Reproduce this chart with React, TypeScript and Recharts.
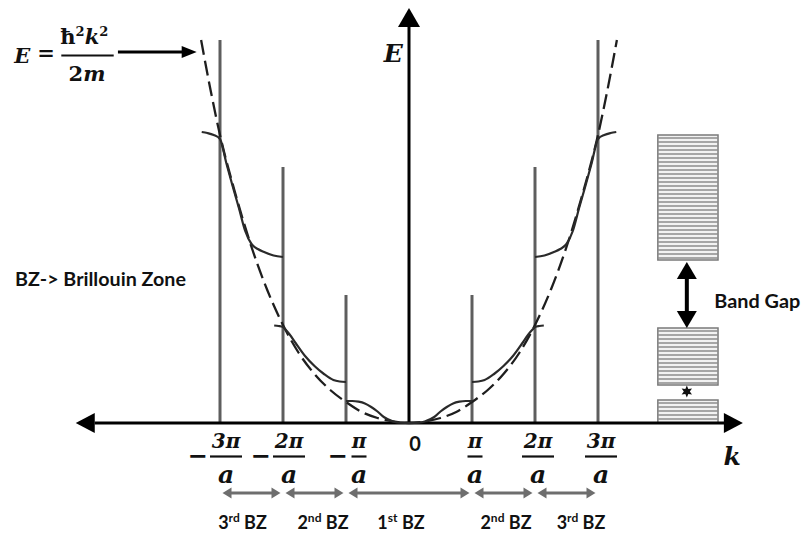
import React from 'react';
import { ComposedChart, Line, XAxis, YAxis, ReferenceLine, ReferenceDot, ReferenceArea } from 'recharts';

// ---------------- data (k in units of π/a, E in arbitrary energy units) ----------------
const freeK = [-3.3, -3.15, -3, -2.75, -2.5, -2.25, -2, -1.75, -1.5, -1.25, -1, -0.75, -0.5, -0.25, 0, 0.25, 0.5, 0.75, 1, 1.25, 1.5, 1.75, 2, 2.25, 2.5, 2.75, 3, 3.15, 3.3];
const freeE = [383, 333, 288, 228, 176, 133, 98, 70, 49, 33, 21, 11, 5, 1.5, 0, 1.5, 5, 11, 21, 33, 49, 70, 98, 133, 176, 228, 288, 333, 383];

const band1K = [-1, -0.9, -0.8, -0.7, -0.6, -0.5, -0.4, -0.25, -0.15, 0, 0.15, 0.25, 0.4, 0.5, 0.6, 0.7, 0.8, 0.9, 1];
const band1E = [22, 22, 21.3, 19.5, 16, 11.5, 6, 1.5, 0.4, 0, 0.4, 1.5, 6, 11.5, 16, 19.5, 21.3, 22, 22];

const band2LeftK = [-2.14, -2.07, -2.0, -1.97, -1.9, -1.8, -1.65, -1.5, -1.35, -1.2, -1.1, -1.0];
const band2LeftE = [97.5, 97, 96, 94, 89, 80, 67, 57, 49, 43, 41.5, 41];
const band2RightK = [1.0, 1.1, 1.2, 1.35, 1.5, 1.65, 1.8, 1.9, 1.97, 2.0, 2.07, 2.14];
const band2RightE = [41, 41.5, 43, 49, 57, 67, 80, 89, 94, 96, 97, 97.5];

const band3LeftK = [-3.29, -3.2, -3.1, -3.0, -2.9, -2.8, -2.7, -2.6, -2.5, -2.4, -2.3, -2.15, -2.0];
const band3LeftE = [291, 290, 288, 284, 260, 237, 215, 192, 179, 174, 171, 167.5, 166];
const band3RightK = [2.0, 2.15, 2.3, 2.4, 2.5, 2.6, 2.7, 2.8, 2.9, 3.0, 3.1, 3.2, 3.29];
const band3RightE = [166, 167.5, 171, 174, 179, 192, 215, 237, 260, 284, 288, 290, 291];

const zoneEdges = [-3, -2, -1, 1, 2, 3];
const zoneLineTops = [383, 256, 128, 128, 256, 383];
const tickNumerators = ['3π', '2π', 'π', 'π', '2π', '3π'];
const tickNegative = [true, true, true, false, false, false];
const tickDenominator = 'a';
const zones = [[-3, -2], [-2, -1], [-1, 1], [1, 2], [2, 3]];
const zoneOrdinals = ['3', '2', '1', '2', '3'];
const zoneSuffixes = ['rd', 'nd', 'st', 'nd', 'rd'];
const zoneName = 'BZ';

const allowedBands = [[0, 23], [38, 95], [163, 288]];
const bandGap = [95, 161];
const gapMarkE = 31.5;

// ---------------- layout ----------------
const W = 803;
const H = 533;
const ORIGIN_X = 409;
const UNIT_X = 63;
const AXIS_Y = 423;
const X_DOMAIN = [-ORIGIN_X / UNIT_X, (W - ORIGIN_X) / UNIT_X];
const Y_DOMAIN = [-(H - AXIS_Y), AXIS_Y];

const SERIF = '"DejaVu Serif", serif';
const SANS = 'Lato, "Open Sans", sans-serif';

const rows = (ks: number[], es: number[]) => ks.map((k, i) => ({ k, E: es[i] }));

const tri = (cx: number, cy: number, dir: string, len: number, half: number, fill: string) => {
  let pts = '';
  if (dir === 'right') pts = `${cx},${cy} ${cx - len},${cy - half} ${cx - len},${cy + half}`;
  if (dir === 'left') pts = `${cx},${cy} ${cx + len},${cy - half} ${cx + len},${cy + half}`;
  if (dir === 'up') pts = `${cx},${cy} ${cx - half},${cy + len} ${cx + half},${cy + len}`;
  if (dir === 'down') pts = `${cx},${cy} ${cx - half},${cy - len} ${cx + half},${cy - len}`;
  return <polygon points={pts} fill={fill} />;
};

const doubleArrow = (color: string, width: number, len: number, half: number) => (p: any) => {
  const { x1, y1, x2, y2 } = p;
  const dx = x2 - x1;
  const dy = y2 - y1;
  const L = Math.hypot(dx, dy) || 1;
  const ux = dx / L;
  const uy = dy / L;
  const nx = -uy;
  const ny = ux;
  const a = `${x1},${y1} ${x1 + ux * len + nx * half},${y1 + uy * len + ny * half} ${x1 + ux * len - nx * half},${y1 + uy * len - ny * half}`;
  const b = `${x2},${y2} ${x2 - ux * len + nx * half},${y2 - uy * len + ny * half} ${x2 - ux * len - nx * half},${y2 - uy * len - ny * half}`;
  return (
    <g>
      <line x1={x1 + ux * len * 0.7} y1={y1 + uy * len * 0.7} x2={x2 - ux * len * 0.7} y2={y2 - uy * len * 0.7} stroke={color} strokeWidth={width} />
      <polygon points={a} fill={color} />
      <polygon points={b} fill={color} />
    </g>
  );
};

const hatchBox = (p: any) => {
  const { x, y, width, height } = p;
  const lines = [];
  for (let yy = y + 3; yy < y + height - 1; yy += 4) {
    lines.push(<line key={yy} x1={x} x2={x + width} y1={yy} y2={yy} stroke="#8c8c8c" strokeWidth={1.3} />);
  }
  return (
    <g>
      <rect x={x} y={y} width={width} height={height} fill="#f2f2f2" stroke="#7a7a7a" strokeWidth={1.5} />
      {lines}
    </g>
  );
};

const mark = (key: string, x: number, y: number, render: (cx: number, cy: number) => React.ReactElement) => (
  <ReferenceDot key={key} x={x} y={y} r={0} ifOverflow="visible" isFront shape={(p: any) => render(p.cx, p.cy)} />
);

const star = (cx: number, cy: number, r: number) => {
  const pts: string[] = [];
  for (let i = 0; i < 12; i++) {
    const ang = (Math.PI / 6) * i - Math.PI / 2;
    const rr = i % 2 === 0 ? r : r * 0.5;
    pts.push(`${cx + rr * Math.cos(ang)},${cy + rr * Math.sin(ang)}`);
  }
  return <polygon points={pts.join(' ')} fill="#111" />;
};

// horizontal offset of each fraction label from its zone line (px)
const tickDx = [6, 6, 13, 3, 3, 3];
const minusDx = [-28.5, -28.5, -21.5, 0, 0, 0];
const zoneLabelDx = [-9, 8.5, -8, 2.5, 14.5];

export default function App() {
  const curve = { type: 'monotone' as const, dataKey: 'E', dot: false, activeDot: false, isAnimationActive: false };
  return (
    <div style={{ position: 'absolute', left: 0, top: 0, width: W, height: H, background: '#fff' }}>
      <ComposedChart width={W} height={H} margin={{ top: 0, right: 0, bottom: 0, left: 0 }}>
        <XAxis dataKey="k" type="number" domain={X_DOMAIN} allowDataOverflow hide tickCount={2} />
        <YAxis type="number" domain={Y_DOMAIN} allowDataOverflow hide tickCount={2} />

        {/* zone boundary lines */}
        {zoneEdges.map((k, i) => (
          <ReferenceLine key={'z' + i} segment={[{ x: k, y: 0 }, { x: k, y: zoneLineTops[i] }]} stroke="#5e5e5e" strokeWidth={3} ifOverflow="visible" />
        ))}

        {/* axes */}
        <ReferenceLine segment={[{ x: -4.99, y: 0 }, { x: 5.02, y: 0 }]} stroke="#000" strokeWidth={3} ifOverflow="visible" />
        <ReferenceLine segment={[{ x: 0, y: 0 }, { x: 0, y: 397 }]} stroke="#000" strokeWidth={3} ifOverflow="visible" />
        {mark('axL', -5.29, 0, (cx, cy) => tri(cx, cy, 'left', 19, 10, '#000'))}
        {mark('axR', 5.3, 0, (cx, cy) => tri(cx, cy, 'right', 19, 10, '#000'))}
        {mark('axU', 0, 415, (cx, cy) => tri(cx, cy, 'up', 19, 11, '#000'))}

        {/* free-electron parabola */}
        <Line data={rows(freeK, freeE)} {...curve} stroke="#1e1e1e" strokeWidth={2.3} strokeDasharray="15 6" />

        {/* bands */}
        <Line data={rows(band1K, band1E)} {...curve} stroke="#2a2a2a" strokeWidth={2.2} />
        <Line data={rows(band2LeftK, band2LeftE)} {...curve} stroke="#2a2a2a" strokeWidth={2.2} />
        <Line data={rows(band2RightK, band2RightE)} {...curve} stroke="#2a2a2a" strokeWidth={2.2} />
        <Line data={rows(band3LeftK, band3LeftE)} {...curve} stroke="#2a2a2a" strokeWidth={2.2} />
        <Line data={rows(band3RightK, band3RightE)} {...curve} stroke="#2a2a2a" strokeWidth={2.2} />

        {/* band diagram */}
        {allowedBands.map((b, i) => (
          <ReferenceArea key={'b' + i} x1={3.95} x2={4.905} y1={b[0]} y2={b[1]} ifOverflow="visible" shape={hatchBox} />
        ))}
        <ReferenceLine segment={[{ x: 4.41, y: bandGap[0] }, { x: 4.41, y: bandGap[1] }]} ifOverflow="visible" shape={doubleArrow('#000', 4, 17, 10)} />
        {mark('star', 4.41, gapMarkE, (cx, cy) => star(cx, cy, 6))}
        {mark('gapTxt', 4.846, 115, (cx, cy) => (
          <text x={cx} y={cy} fontFamily={SANS} fontWeight="bold" fontSize={18} fill="#111" textLength={86} lengthAdjust="spacingAndGlyphs">Band Gap</text>
        ))}

        {/* zone arrows & labels */}
        {zones.map((z, i) => (
          <ReferenceLine key={'za' + i} segment={[{ x: z[0] + 0.04, y: -70 }, { x: z[1] - 0.04, y: -70 }]} ifOverflow="visible" shape={doubleArrow('#6e6e6e', 3.2, 9, 5.5)} />
        ))}
        {zones.map((z, i) =>
          mark('zl' + i, (z[0] + z[1]) / 2, -106, (cx, cy) => (
            <text x={cx + zoneLabelDx[i]} y={cy} textAnchor="middle" fontFamily={SANS} fontWeight="bold" fontSize={18} fill="#111">
              {zoneOrdinals[i]}
              <tspan dy={-7} fontSize={12}>{zoneSuffixes[i]}</tspan>
              <tspan dy={7}>{' ' + zoneName}</tspan>
            </text>
          ))
        )}

        {/* tick labels */}
        {zoneEdges.map((k, i) =>
          mark('t' + i, k, 0, (cx, cy) => {
            const c = cx + tickDx[i];
            const hw = tickNumerators[i].length > 1 ? 16 : 7.5;
            return (
              <g>
                {tickNegative[i] && (
                  <text x={c + minusDx[i]} y={cy + 41} textAnchor="middle" fontFamily='"DejaVu Sans", sans-serif' fontWeight="bold" fontSize={24} fill="#111">−</text>
                )}
                <text x={c} y={cy + 25} textAnchor="middle" fontFamily={SERIF} fontWeight="bold" fontStyle="italic" fontSize={20} fill="#111">{tickNumerators[i]}</text>
                <line x1={c - hw} x2={c + hw} y1={cy + 33.5} y2={cy + 33.5} stroke="#111" strokeWidth={2.2} />
                <text x={c} y={cy + 60} textAnchor="middle" fontFamily={SERIF} fontWeight="bold" fontStyle="italic" fontSize={25} fill="#111">{tickDenominator}</text>
              </g>
            );
          })
        )}
        {mark('zero', 0.095, -28, (cx, cy) => (
          <text x={cx} y={cy} textAnchor="middle" fontFamily={SANS} fontWeight="bold" fontSize={20} fill="#111">0</text>
        ))}

        {/* axis labels */}
        {mark('Elab', -0.25, 361, (cx, cy) => (
          <text x={cx} y={cy} textAnchor="middle" fontFamily={SERIF} fontWeight="bold" fontStyle="italic" fontSize={25} fill="#111">E</text>
        ))}
        {mark('klab', 5.13, -42, (cx, cy) => (
          <text x={cx} y={cy} textAnchor="middle" fontFamily={SERIF} fontWeight="bold" fontStyle="italic" fontSize={25} fill="#111">k</text>
        ))}

        {/* Brillouin zone note */}
        {mark('bz', -6.254, 137, (cx, cy) => (
          <text x={cx} y={cy} fontFamily={SANS} fontWeight="bold" fontSize={18} fill="#111" textLength={171} lengthAdjust="spacingAndGlyphs">BZ-&gt; Brillouin Zone</text>
        ))}

        {/* formula with arrow */}
        {mark('formula', -6.265, 360, (cx, cy) => (
          <g fill="#111" fontFamily={SERIF} fontWeight="bold">
            <text x={cx} y={cy} fontStyle="italic" fontSize={21}>E</text>
            <text x={cx + 23} y={cy - 3} fontSize={21}>=</text>
            <text x={cx + 70} y={cy - 19} textAnchor="middle" fontSize={21}>
              ħ<tspan dy={-8} fontSize={13}>2</tspan>
              <tspan dy={8} fontStyle="italic">k</tspan>
              <tspan dy={-8} fontSize={13}>2</tspan>
            </text>
            <line x1={cx + 47} x2={cx + 99.4} y1={cy - 7.6} y2={cy - 7.6} stroke="#111" strokeWidth={2} />
            <text x={cx + 72.7} y={cy + 18.4} textAnchor="middle" fontSize={21}>
              2<tspan fontStyle="italic">m</tspan>
            </text>
          </g>
        ))}
        <ReferenceLine segment={[{ x: -4.62, y: 371 }, { x: -3.37, y: 371 }]} ifOverflow="visible" shape={(p: any) => (
          <g>
            <line x1={p.x1} y1={p.y1} x2={p.x2 - 12} y2={p.y2} stroke="#000" strokeWidth={3} />
            {tri(p.x2, p.y2, 'right', 15, 6, '#000')}
          </g>
        )} />
      </ComposedChart>
    </div>
  );
}
